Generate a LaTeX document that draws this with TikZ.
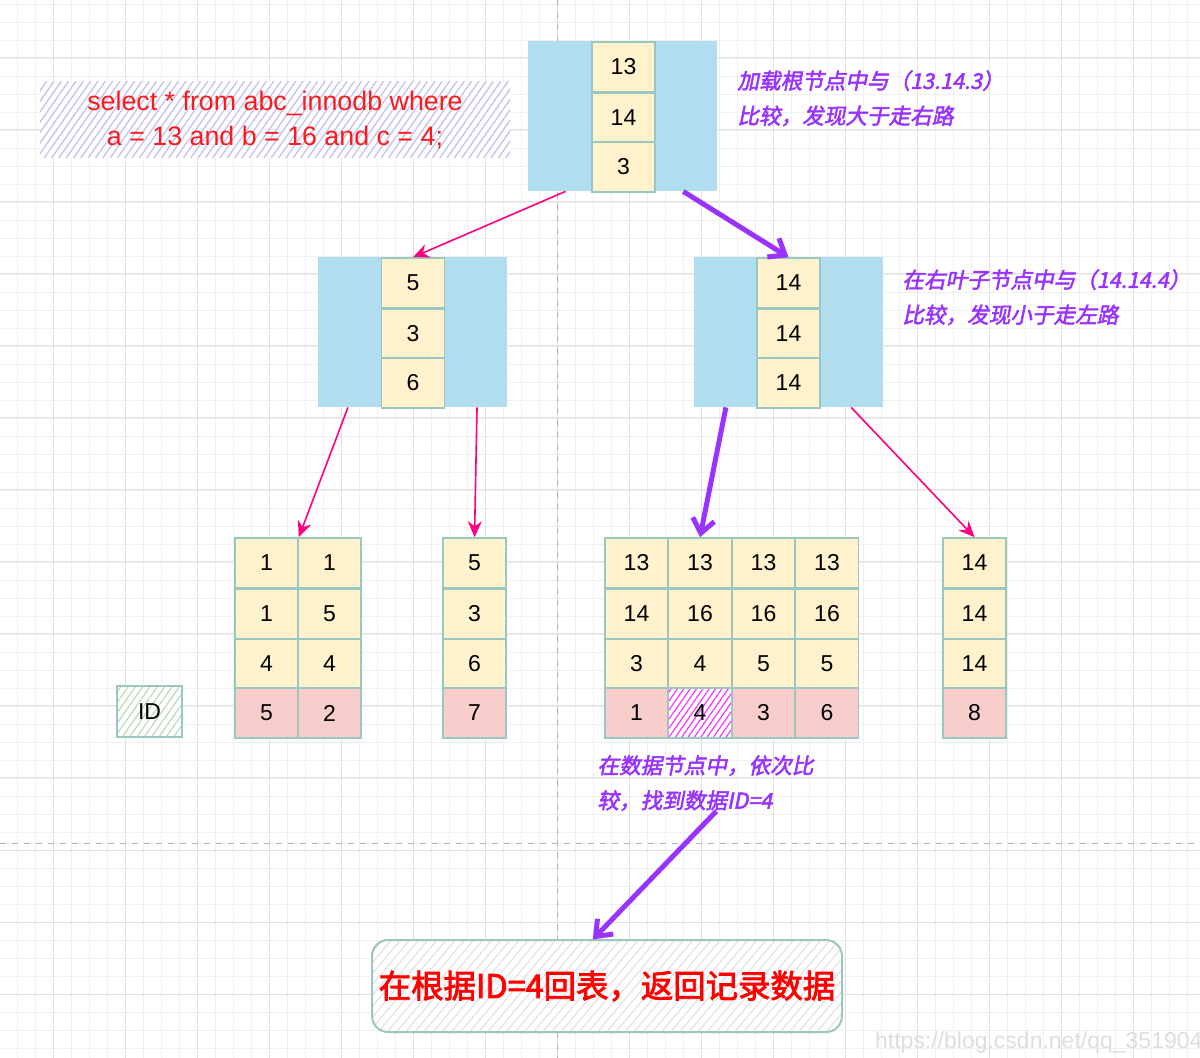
\documentclass[tikz,border=0pt]{standalone}
\usepackage{fontspec}
\setmainfont{Liberation Sans}
\newfontfamily\annofont[FakeSlant=0.2,FakeBold=2.5]{Noto Sans CJK SC}
\newfontfamily\resultfont[FakeBold=2.5]{Noto Sans CJK SC}
\usetikzlibrary{arrows.meta,calc,patterns.meta}
\definecolor{pageblue}{HTML}{B1DDF0}
\definecolor{keyfill}{HTML}{FFF2CC}
\definecolor{idfill}{HTML}{F8CECC}
\definecolor{cellline}{HTML}{9AC7BF}
\definecolor{arrowpink}{HTML}{FF0080}
\definecolor{pathpurple}{HTML}{9933FF}
\definecolor{sqlred}{HTML}{FF1A1A}
\definecolor{hatchblue}{HTML}{C4C4F6}
\definecolor{hatchgreen}{HTML}{B9DDB8}
\definecolor{hatchgray}{HTML}{E2E2E2}
\definecolor{hatchpink}{HTML}{FF33FF}

\begin{document}
\begin{tikzpicture}[x=0.5pt, y=-0.5pt,
    minorgrid/.style={draw=black!6, line width=0.4pt},
    majorgrid/.style={draw=black!12, line width=0.5pt},
    guide/.style={draw=black!30, line width=0.5pt, dashed},
    cell/.style={draw=cellline, fill=keyfill, line width=0.8pt, minimum width=31.5pt, minimum height=25pt, inner sep=0pt, font=\fontsize{11.5}{13}\selectfont},
    idcell/.style={cell, fill=idfill},
    hitcell/.style={cell, preaction={fill=white}, pattern={Lines[angle=55,distance=2.6pt,line width=0.6pt]}, pattern color=hatchpink},
    pagebox/.style={fill=pageblue, minimum width=94.5pt, minimum height=75pt, inner sep=0pt},
    note/.style={anchor=north west, inner sep=0pt, align=left, text=pathpurple, font=\annofont\fontsize{10.8}{17.5}\selectfont},
    pinkarrow/.style={draw=arrowpink, line width=0.8pt, -{Stealth[length=8pt,width=7pt]}},
    purplearrow/.style={draw=pathpurple, line width=2.5pt, -{Straight Barb[length=7pt,width=11pt]}}]
  \useasboundingbox (0,0) rectangle (1200,1058);
  \clip (0,0) rectangle (1200,1058);
  \fill[white] (0,0) rectangle (1200,1058);

  % background grid
  \foreach \gx in {-1,17,...,1200} \draw[minorgrid] (\gx,0) -- (\gx,1058);
  \foreach \gy in {4,22,...,1058} \draw[minorgrid] (0,\gy) -- (1200,\gy);
  \foreach \gx in {-19,53,...,1200} \draw[majorgrid] (\gx,0) -- (\gx,1058);
  \foreach \gy in {-14,58,...,1058} \draw[majorgrid] (0,\gy) -- (1200,\gy);
  \draw[guide] (557,0) -- (557,1058);
  \draw[guide] (0,843) -- (1200,843);

  % query
  \node[preaction={fill=white}, pattern={Lines[angle=55,distance=3pt,line width=0.7pt]}, pattern color=hatchblue,
        minimum width=235pt, minimum height=38pt, align=center, text=sqlred, font=\fontsize{13.4}{17.5}\selectfont] (query) at (275,120)
        {select * from abc\_innodb where\\a = 13 and b = 16 and c = 4;};

  % root page
  \node[pagebox] (root) at (622.5,116) {};
  \node[cell] (root1) at (623.5,67) {13};
  \node[cell] (root2) at (623.5,118) {14};
  \node[cell] (root3) at (623.5,167) {3};
  \node[note] (rootnote) at (737,70) {加载根节点中与（13.14.3）\\比较，发现大于走右路};

  % second level
  \node[pagebox] (lnode) at (412.5,332) {};
  \node[cell] (lk1) at (413,283) {5};
  \node[cell] (lk2) at (413,334) {3};
  \node[cell] (lk3) at (413,383) {6};
  \node[pagebox] (rnode) at (788.5,332) {};
  \node[cell] (rk1) at (788.5,283) {14};
  \node[cell] (rk2) at (788.5,334) {14};
  \node[cell] (rk3) at (788.5,383) {14};
  \node[note] (rightnote) at (902,269) {在右叶子节点中与（14.14.4）\\比较，发现小于走左路};

  % leaf pages
  \foreach \k/\x/\p/\q/\r/\s in {1/266.5/1/1/4/5, 2/329.5/1/5/4/2} {
    \node[cell] (a\k1) at (\x,563) {\p};
    \node[cell] (a\k2) at (\x,614) {\q};
    \node[cell] (a\k3) at (\x,664) {\r};
    \node[idcell] (a\k4) at (\x,713) {\s};
  }
  \node[cell] (b1) at (474.5,563) {5};
  \node[cell] (b2) at (474.5,614) {3};
  \node[cell] (b3) at (474.5,664) {6};
  \node[idcell] (b4) at (474.5,713) {7};
  \foreach \k/\x/\p/\q/\r/\s/\st in {1/636.5/13/14/3/1/idcell, 2/700/13/16/4/4/hitcell, 3/763.5/13/16/5/3/idcell, 4/827/13/16/5/6/idcell} {
    \node[cell] (c\k1) at (\x,563) {\p};
    \node[cell] (c\k2) at (\x,614) {\q};
    \node[cell] (c\k3) at (\x,664) {\r};
    \node[\st] (c\k4) at (\x,713) {\s};
  }
  \node[cell] (d1) at (974.5,563) {14};
  \node[cell] (d2) at (974.5,614) {14};
  \node[cell] (d3) at (974.5,664) {14};
  \node[idcell] (d4) at (974.5,713) {8};

  \node[draw=cellline, line width=0.8pt, preaction={fill=white}, pattern={Lines[angle=55,distance=3pt,line width=0.6pt]}, pattern color=hatchgreen,
        minimum width=32.5pt, minimum height=25.5pt, inner sep=0pt, font=\fontsize{11.5}{13}\selectfont] (idkey) at (149.5,711.5) {ID};

  \node[note] (datanote) at (597,755) {在数据节点中，依次比\\较，找到数据ID=4};

  % result
  \node[draw=cellline, line width=1pt, rounded corners=8pt, preaction={fill=white}, pattern={Lines[angle=50,distance=3.5pt,line width=0.6pt]}, pattern color=hatchgray,
        minimum width=235pt, minimum height=46pt, text=red, font=\resultfont\fontsize{16.2}{18}\selectfont] (result) at (607,986) {在根据ID=4回表，返回记录数据};

  % search path
  \draw[pinkarrow] ($(root.south west)!0.2!(root.south east)$) -- (lk1.north);
  \draw[purplearrow] ($(root.south west)!0.82!(root.south east)$) -- (rk1.north);
  \draw[pinkarrow] ($(lnode.south west)!0.16!(lnode.south east)$) -- (a11.north east);
  \draw[pinkarrow] ($(lnode.south west)!0.84!(lnode.south east)$) -- (b1.north);
  \draw[purplearrow] ($(rnode.south west)!0.17!(rnode.south east)$) -- (c21.north);
  \draw[pinkarrow] ($(rnode.south west)!0.83!(rnode.south east)$) -- (d1.north);
  \draw[purplearrow] ($(datanote.south west)!0.55!(datanote.south east)$) -- ($(result.north west)!0.47!(result.north east)$);

  \node[anchor=west, text=black!13, font=\fontsize{11.5}{13}\selectfont] (mark) at (868,1043) {https://blog.csdn.net/qq\_351904};
\end{tikzpicture}
\end{document}
